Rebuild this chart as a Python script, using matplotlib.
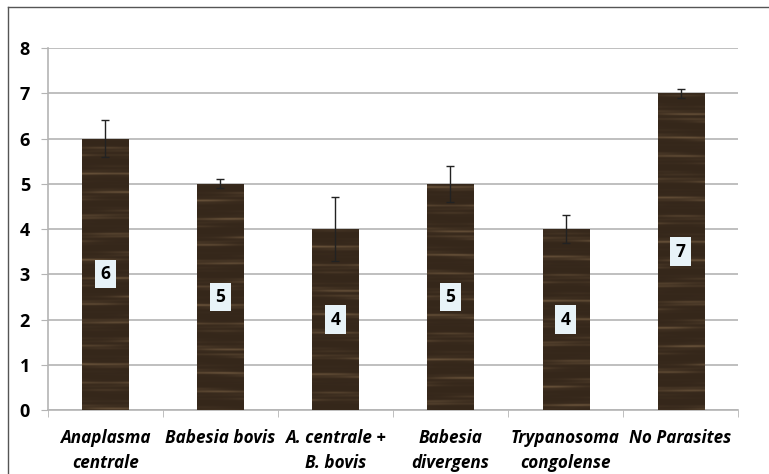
import numpy as np
import matplotlib.pyplot as plt
from matplotlib.lines import Line2D

categories = ['Anaplasma\ncentrale', 'Babesia bovis', 'A. centrale +\nB. bovis',
              'Babesia\ndivergens', 'Trypanosoma\ncongolense', 'No Parasites']
values = [6, 5, 4, 5, 4, 7]
errors = [0.4, 0.1, 0.7, 0.4, 0.3, 0.1]
yticks = [0, 1, 2, 3, 4, 5, 6, 7, 8]

plt.rcParams['font.family'] = ['Open Sans', 'DejaVu Sans']

fig = plt.figure(figsize=(7.69, 4.74), dpi=100)
ax = fig.add_axes([0.0624, 0.135, 0.8973, 0.7637])

x = np.arange(len(values))
bars = ax.bar(x, values, width=0.4, color='#3a2a1d', zorder=2)

# wood grain texture (same scale for every bar), clipped to each bar
yy = np.linspace(0, 1, 800)[:, None]
xx = np.linspace(0, 1, 80)[None, :]
grain = (0.5 * np.sin(2 * np.pi * (yy * 17.3 + 0.12 * np.sin(xx * 2.2 + yy * 5)))
         + 0.3 * np.sin(2 * np.pi * (yy * 41.7 + 0.15 * xx))
         + 0.2 * np.sin(2 * np.pi * (yy * 97.1 - 0.1 * xx)))
dark = np.array([0.21, 0.155, 0.105])
light = np.array([0.43, 0.34, 0.24])
t = np.clip((grain + 1) / 2, 0, 1)[..., None] ** 5
tex = dark * (1 - t) + light * t
for i, b in enumerate(bars):
    shift = np.roll(tex, 130 * i, axis=0)
    im = ax.imshow(shift, extent=[b.get_x(), b.get_x() + b.get_width(), 0, 8],
                   aspect='auto', zorder=3, interpolation='bilinear', origin='lower')
    im.set_clip_path(b)

ax.errorbar(x, values, yerr=errors, fmt='none', ecolor='#222222', elinewidth=1,
            capsize=3, capthick=1, zorder=4)

for xi, v in zip(x, values):
    ax.text(xi, v / 2, str(v), ha='center', va='center', fontsize=12.5, fontweight='bold',
            zorder=5, bbox=dict(boxstyle='square,pad=0.3', fc='#e8f3f8', ec='none'))

ax.set_xlim(-0.5, 5.5)
ax.set_ylim(0, 8)
ax.set_yticks(yticks)
ax.set_yticklabels([str(v) for v in yticks], fontsize=13, fontweight='bold')
ax.yaxis.grid(True, color='#b4b4b4', linewidth=1.2, zorder=0)
ax.set_axisbelow(True)

ax.set_xticks(x)
ax.set_xticklabels(categories, fontsize=12.3, fontweight='bold', style='italic',
                   linespacing=1.5)
ax.set_xticks(np.arange(-0.5, 6, 1), minor=True)
ax.tick_params(axis='x', which='major', length=0, pad=14)
ax.tick_params(axis='x', which='minor', length=5, color='#b4b4b4', direction='out')
ax.tick_params(axis='y', length=5, color='#b4b4b4', direction='out', pad=8)

for s in ['top', 'right']:
    ax.spines[s].set_visible(False)
ax.spines['left'].set_color('#b4b4b4')
ax.spines['bottom'].set_color('#b4b4b4')
ax.spines['left'].set_linewidth(1.2)
ax.spines['bottom'].set_linewidth(1.2)

# outer frame (top and left edges visible)
fig.add_artist(Line2D([8 / 769, 1], [1 - 7 / 474, 1 - 7 / 474], color='#555555', lw=1))
fig.add_artist(Line2D([8 / 769, 8 / 769], [0, 1 - 7 / 474], color='#555555', lw=1))

fig.savefig('out.png', dpi=100)
